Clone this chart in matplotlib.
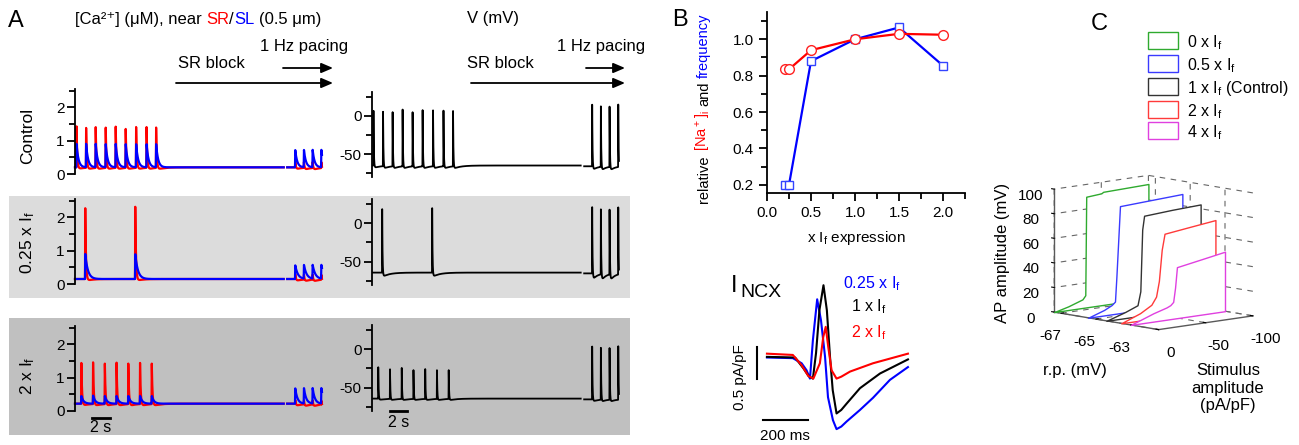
import numpy as np
import matplotlib
matplotlib.use("Agg")
import matplotlib.pyplot as plt
from matplotlib.patches import Rectangle, FancyArrowPatch
from mpl_toolkits.mplot3d.art3d import Poly3DCollection

plt.rcParams["font.family"] = ["Liberation Sans", "DejaVu Sans"]
plt.rcParams["mathtext.default"] = "regular"
plt.rcParams["font.size"] = 11
plt.rcParams["axes.unicode_minus"] = False

W, H = 1299, 445

# ---------------- panel A: traces (times in s) ----------------
T_MAIN_END = 24.0
T_PACE = (24.4, 28.4)
pace_times = [25.3, 26.3, 27.3, 28.3]

ctrl_times = [0.15, 1.25, 2.35, 3.5, 4.65, 5.8, 7.0, 8.2, 9.3]
ctrl_sr = [1.45, 1.42, 1.45, 1.47, 1.47, 1.43, 1.48, 1.47, 1.45]
ctrl_sl = [0.9, 0.9, 0.9, 0.9, 0.9, 0.9, 0.9, 0.9, 0.9]
ctrl_v = [11, 11, 11, 11, 11, 11, 11, 11, 11]

low_times = [1.15, 6.9]
low_sr = [2.3, 2.4]
low_sl = [0.9, 0.9]
low_v = [24, 23]

high_times = [0.7, 2.05, 3.4, 4.75, 6.1, 7.45, 8.8]
high_sr = [1.5, 1.5, 1.5, 1.5, 1.5, 1.5, 1.48]
high_sl = [0.45, 0.46, 0.45, 0.45, 0.45, 0.45, 0.45]
high_v = [-23, -23, -23, -24, -24, -25, -25]

row_names = ["Control", "0.25 x I$_f$", "2 x I$_f$"]
rest_ca = [0.20, 0.15, 0.22]
sl_tau = [0.22, 0.30, 0.25]
sr_dip = [0.07, 0.07, 0.08]
pace_sr = [0.40, 0.32, 0.36]
pace_sl = [0.72, 0.56, 0.68]
rest_v = [-65, -64, -64]
ahp_v = [3.5, 6, 2]
pace_v = [17, 24, 5]
pace_ahp_v = [6, 10, 3.5]

# ---------------- panel B ----------------
if_levels = [0.2, 0.25, 0.5, 1.0, 1.5, 2.0]
rel_na = [0.835, 0.835, 0.94, 1.0, 1.03, 1.025]
rel_freq = [0.2, 0.2, 0.88, 1.0, 1.065, 0.855]

# INCX during one beat (ms, pA/pF relative to diastole)
ncx_t_025 = [0, 115, 154, 176, 191, 204, 223, 240, 258, 271, 293, 309, 330, 354, 413, 471, 546, 626]
ncx_i_025 = [0, -0.01, -0.09, -0.2, -0.33, 0.27, 0.91, 0.58, 0.01, -0.62, -0.98, -1.12, -1.08, -1.0, -0.82, -0.63, -0.35, -0.15]
ncx_t_1 = [0, 125, 162, 185, 204, 218, 233, 251, 266, 280, 292, 309, 330, 354, 413, 502, 626]
ncx_i_1 = [0.01, 0, -0.17, -0.29, -0.33, 0.07, 0.74, 1.13, 0.74, 0.01, -0.51, -0.875, -0.82, -0.72, -0.48, -0.25, -0.03]
ncx_t_2 = [0, 115, 154, 184, 206, 235, 250, 261, 272, 287, 309, 330, 369, 471, 626]
ncx_i_2 = [0.06, 0.04, -0.12, -0.29, -0.33, -0.09, 0.32, 0.48, 0.17, -0.2, -0.33, -0.3, -0.22, -0.09, 0.06]

# ---------------- panel C ----------------
c_labels = ["0 x I$_f$", "0.5 x I$_f$", "1 x I$_f$ (Control)", "2 x I$_f$", "4 x I$_f$"]
c_colors = ["#2faa2f", "#3a3aff", "#333333", "#ff3a3a", "#e040e0"]
c_rp = [-67.4, -65.45, -64.4, -63.55, -63.0]
c_stim = [
    [0, -15, -30, -33, -34, -50, -52, -100],
    [0, -17, -25, -28.5, -30, -33.8, -60, -100],
    [0, -20, -33, -36, -38, -40, -70, -100],
    [0, -20, -32, -37, -40, -43, -46, -70, -100],
    [0, -24, -38, -42, -45, -47, -49, -75, -100],
]
c_amp = [
    [0, 3, 7, 10, 90, 91, 92, 93],
    [0, 4.5, 7.6, 10, 30, 87, 88, 89.5],
    [0, 5, 9, 20, 70, 81, 82.5, 83.5],
    [0, 6, 11.5, 17.6, 30, 55, 67.7, 70, 72.8],
    [0, 6.8, 10, 11.4, 13.7, 25, 41.5, 45, 48.4],
]


def rise_decay(d, rise, tau):
    out = np.where(d < rise, d / rise, np.exp(-(d - rise) / tau))
    return np.where(d < 0, 0.0, out)


def slow_dip(d, tau):
    dc = np.clip(d, 0, None)
    return np.where(d <= 0, 0.0, (1 - np.exp(-dc / 0.08)) * np.exp(-dc / tau))


def ca_trace(t, times, peaks, rest, tau, dip=0.0):
    y = np.full_like(t, rest)
    for ts, pk in zip(times, peaks):
        d = t - ts
        y += (pk - rest) * rise_decay(d, 0.03, tau) - dip * slow_dip(d, 0.7)
    return y


def v_trace(t, times, peaks, rest, ahp, ahp_tau):
    y = np.full_like(t, float(rest))
    for ts, pk in zip(times, peaks):
        d = t - ts
        y += (pk - rest) * rise_decay(d, 0.02, 0.04) - ahp * slow_dip(d, ahp_tau)
    return y


fig = plt.figure(figsize=(W / 100, H / 100), dpi=100)


def px_rect(left, top, right, bottom):
    return [left / W, 1 - bottom / H, (right - left) / W, (bottom - top) / H]


def frac(x, y):
    return x / W, 1 - y / H


def ftext(x, y, s, **kw):
    return fig.text(x / W, 1 - y / H, s, **kw)


def pieces_text(x, y, pieces, vertical=False, **kw):
    renderer = fig.canvas.get_renderer()
    probe = fig.text(0, 0, "a a", **kw)
    w_sp = probe.get_window_extent(renderer).width
    probe.set_text("aa")
    space = w_sp - probe.get_window_extent(renderer).width
    probe.remove()
    pos = y if vertical else x
    for s, color in pieces:
        if s.startswith(" "):
            pos += -space if vertical else space
        if vertical:
            t = ftext(x, pos, s.strip(), color=color, rotation=90, rotation_mode="anchor",
                      ha="left", va="baseline", **kw)
            pos -= t.get_window_extent(renderer).height
        else:
            t = ftext(pos, y, s.strip(), color=color, ha="left", va="baseline", **kw)
            pos += t.get_window_extent(renderer).width
        if s.endswith(" "):
            pos += -space if vertical else space


def trace_axes(rect, ylim, major, minor):
    ax = fig.add_axes(rect)
    ax.set_facecolor("none")
    ax.set_xlim(0, 29.9)
    ax.set_ylim(*ylim)
    for s in ["top", "right", "bottom"]:
        ax.spines[s].set_visible(False)
    ax.spines["left"].set_linewidth(1.3)
    ax.set_xticks([])
    ax.set_yticks(major)
    ax.set_yticks(minor, minor=True)
    ax.tick_params(axis="y", which="major", length=6, width=1.3, pad=1.5, labelsize=11)
    ax.tick_params(axis="y", which="minor", length=4, width=1.3)
    return ax


def arrow(x0, x1, y):
    fig.add_artist(FancyArrowPatch(frac(x0, y), frac(x1, y), transform=fig.transFigure,
                                   arrowstyle="-|>,head_length=7,head_width=3", mutation_scale=1,
                                   lw=1.3, color="k", shrinkA=0, shrinkB=0))


# row backgrounds
fig.add_artist(Rectangle(frac(9, 298), 621 / W, 102 / H, transform=fig.transFigure,
                         facecolor="#dcdcdc", edgecolor="none", zorder=0))
fig.add_artist(Rectangle(frac(9, 435), 621 / W, 117 / H, transform=fig.transFigure,
                         facecolor="#c0c0c0", edgecolor="none", zorder=0))

rows = [
    (ctrl_times, ctrl_sr, ctrl_sl, ctrl_v),
    (low_times, low_sr, low_sl, low_v),
    (high_times, high_sr, high_sl, high_v),
]
ca_px = [(89, 174), (199, 284), (326, 411)]
v_px = [(92, 177), (199, 285), (325, 411)]
label_y = [136, 243, 376]

t_main = np.linspace(0, T_MAIN_END, 6000)
t_pace = np.linspace(T_PACE[0], T_PACE[1], 1500)

for i, (times, sr, sl, vpk) in enumerate(rows):
    axc = trace_axes(px_rect(75, ca_px[i][0], 335, ca_px[i][1]), (0, 2.55), [0, 1, 2], [0.5, 1.5, 2.5])
    for t, tt, srp, slp in [(t_main, times, sr, sl),
                            (t_pace, pace_times, [pace_sr[i]] * 4, [pace_sl[i]] * 4)]:
        axc.plot(t, ca_trace(t, tt, srp, rest_ca[i], 0.08, sr_dip[i]), color="#ff0000", lw=1.6, clip_on=False)
        axc.plot(t, ca_trace(t, tt, slp, rest_ca[i], sl_tau[i]), color="#0000ff", lw=1.6, clip_on=False)

    axv = trace_axes(px_rect(372, v_px[i][0], 632, v_px[i][1]), (-80, 31), [-50, 0], [-75, -25, 25])
    axv.plot(t_main, v_trace(t_main, times, vpk, rest_v[i], ahp_v[i], 0.8), color="k", lw=1.3)
    axv.plot(t_pace, v_trace(t_pace, pace_times, [pace_v[i]] * 4, rest_v[i] - 1, pace_ahp_v[i], 0.5),
             color="k", lw=1.3)

    ftext(28, label_y[i], row_names[i], rotation=90, ha="center", va="center", fontsize=12.5)

    if i == 2:
        axc.plot([2.0, 4.0], [-0.2, -0.2], color="k", lw=2, clip_on=False)
        axc.text(3.0, -0.5, "2 s", ha="center", va="center", fontsize=11.5)
        axv.plot([2.07, 4.07], [-80, -80], color="k", lw=2, clip_on=False)
        axv.text(3.07, -95, "2 s", ha="center", va="center", fontsize=11.5)

ftext(16, 21, "A", fontsize=17, ha="center", va="center")
pieces_text(75, 24, [("[Ca²⁺] (μM), near ", "k"), ("SR", "#ff0000"), ("/", "k"),
                     ("SL", "#0000ff"), (" (0.5 μm)", "k")], fontsize=12)
ftext(493, 18, "V (mV)", ha="center", va="center", fontsize=12)
for x_sr, x_hz, a0, a1, b0 in [(211, 304, 176, 333, 283), (500, 601, 471, 625, 586)]:
    ftext(x_sr, 63, "SR block", ha="center", va="center", fontsize=12)
    ftext(x_hz, 47, "1 Hz pacing", ha="center", va="center", fontsize=12)
    arrow(a0, a1, 83)
    arrow(b0, a1, 68)

# ---------------- panel B top ----------------
axB = fig.add_axes(px_rect(767, 12, 965, 193))
axB.plot(if_levels, rel_freq, color="#0000ff", lw=1.6, marker="s", ms=5.5, mfc="white", mec="#3344ff", mew=1)
axB.plot(if_levels, rel_na, color="#ff0000", lw=1.6, marker="o", ms=7, mfc="white", mec="#ff2222", mew=1)
axB.set_xlim(0, 2.25)
axB.set_ylim(0.155, 1.15)
axB.spines["top"].set_visible(False)
axB.spines["right"].set_visible(False)
for s in ["left", "bottom"]:
    axB.spines[s].set_linewidth(1.3)
axB.set_xticks([0, 0.5, 1.0, 1.5, 2.0])
axB.set_xticks(np.arange(0.25, 2.3, 0.5), minor=True)
axB.set_yticks([0.2, 0.4, 0.6, 0.8, 1.0])
axB.set_yticks(np.arange(0.3, 1.15, 0.2), minor=True)
axB.xaxis.set_major_formatter(matplotlib.ticker.FormatStrFormatter("%.1f"))
axB.yaxis.set_major_formatter(matplotlib.ticker.FormatStrFormatter("%.1f"))
axB.tick_params(which="major", length=6, width=1.3, labelsize=11)
axB.tick_params(which="minor", length=4, width=1.3)
ftext(856, 238, "x I$_f$ expression", ha="center", va="center", fontsize=11)
pieces_text(708, 203, [("relative ", "k"), ("[Na$^+$]$_i$", "#ff0000"), (" and ", "k"),
                       ("frequency", "#0000ff")], vertical=True, fontsize=10.5)
ftext(680, 20, "B", fontsize=17, ha="center", va="center")

# ---------------- panel B bottom: INCX ----------------
axN = fig.add_axes(px_rect(730, 275, 912, 440))
axN.set_xlim(-164, 644)
axN.set_ylim(-1.29, 1.29)
axN.axis("off")
axN.plot(ncx_t_025, ncx_i_025, color="#0000ff", lw=1.5)
axN.plot(ncx_t_1, ncx_i_1, color="k", lw=1.5)
axN.plot(ncx_t_2, ncx_i_2, color="#ff0000", lw=1.5)
axN.plot([-44, -44], [-0.33, 0.17], color="k", lw=1.5)
axN.plot([-18, 182], [-0.98, -0.98], color="k", lw=1.5)
axN.text(80, -1.22, "200 ms", ha="center", va="center", fontsize=11)
axN.text(-118, -0.3, "0.5 pA/pF", rotation=90, ha="center", va="center", fontsize=11)
ftext(731, 292, "I", fontsize=17, ha="left", va="baseline")
ftext(740, 297, "NCX", fontsize=14, ha="left", va="baseline")
ftext(843, 288, "0.25 x I$_f$", color="#0000ff", fontsize=11.5, ha="left", va="baseline")
ftext(851, 311, "1 x I$_f$", color="k", fontsize=11.5, ha="left", va="baseline")
ftext(851, 337, "2 x I$_f$", color="#ff0000", fontsize=11.5, ha="left", va="baseline")

# ---------------- panel C ----------------
ftext(1099, 24, "C", fontsize=17, ha="center", va="center")
box_tops = [32, 55, 78, 101, 122]
for top, lab, col in zip(box_tops, c_labels, c_colors):
    fig.add_artist(Rectangle(frac(1148, top + 17), 30 / W, 17 / H, transform=fig.transFigure,
                             facecolor="white", edgecolor=col, lw=1))
    ftext(1187, top + 15, lab, fontsize=11.5, ha="left", va="baseline")

with plt.rc_context({"grid.linestyle": (0, (5, 5)), "grid.color": "0.4", "grid.linewidth": 0.8}):
    axC = fig.add_axes(px_rect(1020, 126, 1280, 386), projection="3d", computed_zorder=False)
axC.set_proj_type("ortho")
axC.view_init(elev=9, azim=-43)
axC.set_box_aspect((1.23, 1.035, 1.0), zoom=0.88)
axC.set_xlim(-67.4, -61.4)
axC.set_ylim(0, -100)
axC.set_zlim(0, 100)
axC.set_xticks([-67, -65, -63])
axC.set_yticks([0, -50, -100])
axC.set_zticks([0, 20, 40, 60, 80, 100])
axC.tick_params(labelsize=11, colors="k")
axC.zaxis.set_ticks_position("upper")
for axis in (axC.xaxis, axC.yaxis, axC.zaxis):
    axis.set_pane_color((1, 1, 1, 0))
    axis.pane.set_edgecolor((1, 1, 1, 0))
    axis.line.set_color("0.35")
    axis.line.set_linewidth(1)
    axis._axinfo["tick"]["inward_factor"] = 0.0
    axis._axinfo["tick"]["outward_factor"] = 0.3
for k, (rp, st, am, col) in enumerate(zip(c_rp, c_stim, c_amp, c_colors)):
    verts = [(rp, s, a) for s, a in zip(st, am)] + [(rp, -100, 0), (rp, 0, 0)]
    poly = Poly3DCollection([verts], facecolor="white", edgecolor=col, linewidths=1, zorder=5 + k)
    axC.add_collection3d(poly)
ftext(1003, 253, "AP amplitude (mV)", rotation=90, ha="center", va="center", fontsize=12)
ftext(1075, 370, "r.p. (mV)", ha="center", va="center", fontsize=12)
ftext(1228, 388, "Stimulus\namplitude\n(pA/pF)", ha="center", va="center", fontsize=12,
      linespacing=1.2)

fig.savefig("out.png", dpi=100)
